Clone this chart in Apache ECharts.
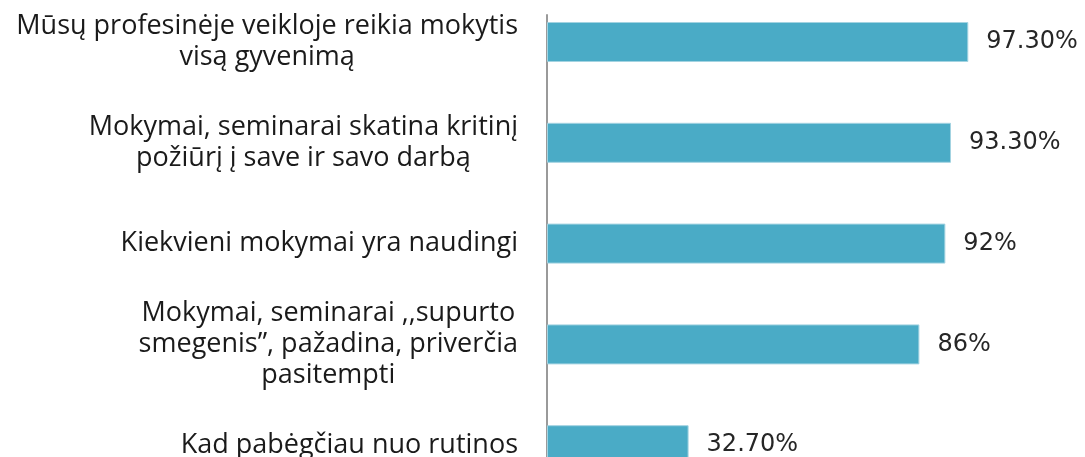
<!DOCTYPE html>
<html>
<head>
<meta charset="utf-8">
<style>
  html, body { margin: 0; padding: 0; background: #ffffff; overflow: hidden; width: 1085px; height: 457px; }
  #chart { position: absolute; left: 0; top: -20px; width: 1085px; height: 540px; }
</style>
<script src="https://cdn.jsdelivr.net/npm/echarts@6/dist/echarts.min.js"></script>
</head>
<body>
<div id="chart"></div>
<script>
// Survey answers, top to bottom
const categories = [
  'Mūsų profesinėje veikloje reikia mokytis\nvisą gyvenimą',
  'Mokymai, seminarai skatina kritinį\npožiūrį į save ir savo darbą',
  'Kiekvieni mokymai yra naudingi',
  'Mokymai, seminarai ,,supurto\nsmegenis”, pažadina, priverčia\npasitempti',
  'Kad pabėgčiau nuo rutinos'
];
// Share of respondents agreeing, percent
const values = [97.3, 93.3, 92, 86, 32.7];
// Text printed next to each bar
const valueLabels = ['97.30%', '93.30%', '92%', '86%', '32.70%'];

const chart = echarts.init(document.getElementById('chart'), null, { renderer: 'canvas' });

const LEFT = 547;
const RIGHT = 105;

chart.setOption({
  animation: false,
  backgroundColor: '#ffffff',
  grid: [
    // plot area for the bars and the category labels (runs past the lower edge)
    { left: LEFT, right: RIGHT, top: 11.6, bottom: 24.4, containLabel: false },
    // plot area that only carries the vertical axis line
    { left: LEFT, right: RIGHT, top: 35, bottom: 24.4, containLabel: false }
  ],
  xAxis: [
    { gridIndex: 0, type: 'value', min: 0, max: 100, show: false },
    { gridIndex: 1, type: 'value', min: 0, max: 100, show: false }
  ],
  yAxis: [
    {
      gridIndex: 0,
      type: 'category',
      data: categories,
      inverse: true,
      axisLine: { show: false },
      axisTick: { show: false },
      splitLine: { show: false },
      axisLabel: {
        margin: 29,
        align: 'right',
        formatter: function (v) {
          return v.split('\n').map(function (l) { return '{c|' + l + '}'; }).join('\n');
        },
        rich: {
          c: {
            align: 'center',
            fontFamily: '"Open Sans", Lato, sans-serif',
            fontSize: 27,
            lineHeight: 31,
            color: '#1a1a1a'
          }
        }
      }
    },
    {
      gridIndex: 1,
      type: 'value',
      min: 0,
      max: 1,
      axisLine: { show: true, lineStyle: { color: '#9a9a9a', width: 2 } },
      axisTick: { show: false },
      axisLabel: { show: false },
      splitLine: { show: false }
    }
  ],
  series: [
    {
      type: 'bar',
      xAxisIndex: 0,
      yAxisIndex: 0,
      data: values,
      barWidth: 40,
      itemStyle: {
        color: '#4aabc6',
        borderColor: '#a3d3e1',
        borderWidth: 1
      },
      label: {
        show: true,
        position: 'right',
        distance: 18,
        formatter: function (p) { return valueLabels[p.dataIndex]; },
        fontFamily: '"DejaVu Sans", sans-serif',
        fontSize: 24,
        color: '#262626'
      }
    }
  ]
});
</script>
</body>
</html>
